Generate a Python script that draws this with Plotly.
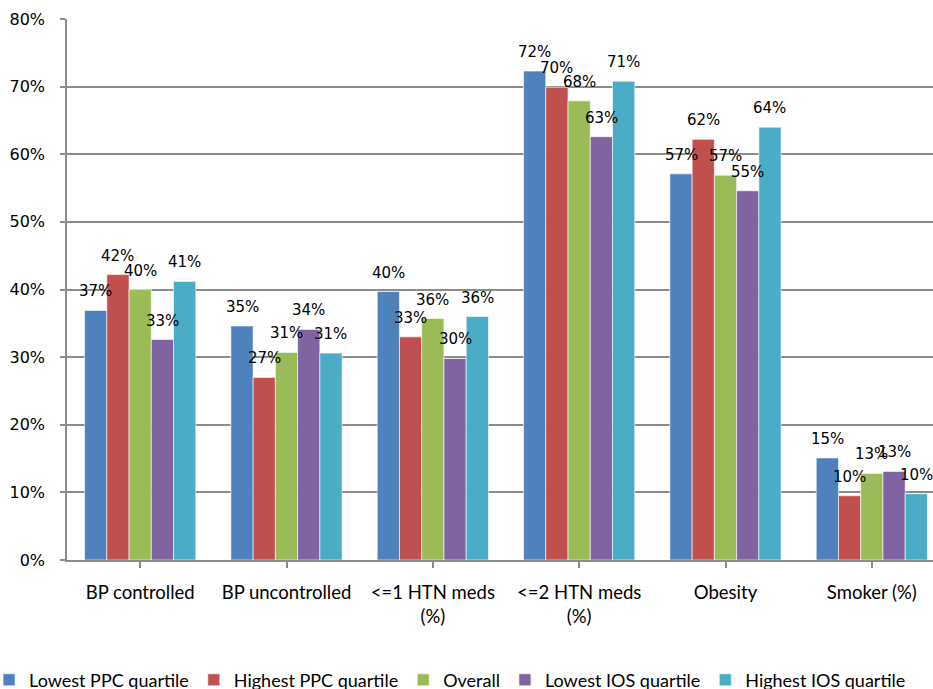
import plotly.graph_objects as go

categories = ["BP controlled", "BP uncontrolled", "<=1 HTN meds (%)", "<=2 HTN meds (%)", "Obesity", "Smoker (%)"]
tick_labels = ["BP controlled", "BP uncontrolled", "&lt;=1 HTN meds<br>(%)", "&lt;=2 HTN meds<br>(%)", "Obesity", "Smoker (%)"]

series_names = ["Lowest PPC quartile", "Highest PPC quartile", "Overall", "Lowest IOS quartile", "Highest IOS quartile"]
lowest_ppc = [0.369, 0.346, 0.397, 0.723, 0.571, 0.151]
highest_ppc = [0.422, 0.270, 0.330, 0.699, 0.622, 0.095]
overall = [0.400, 0.307, 0.357, 0.679, 0.569, 0.128]
lowest_ios = [0.326, 0.341, 0.298, 0.626, 0.546, 0.131]
highest_ios = [0.412, 0.306, 0.360, 0.708, 0.640, 0.098]
series_values = [lowest_ppc, highest_ppc, overall, lowest_ios, highest_ios]
colors = ["#4F81BD", "#C0504D", "#9BBB59", "#8064A2", "#4BACC6"]

bargap = 0.24
n = len(series_names)
xidx = list(range(len(categories)))

fig = go.Figure()
for name, vals, col in zip(series_names, series_values, colors):
    fig.add_trace(go.Bar(
        x=xidx, y=vals, name=name,
        marker=dict(color=col, line=dict(color="rgba(255,255,255,0.6)", width=1)),
    ))

annotations = []
bw = (1 - bargap) / n
for i, vals in enumerate(series_values):
    for j, v in enumerate(vals):
        annotations.append(dict(
            x=j + (i - (n - 1) / 2) * bw, y=v, xref="x", yref="y",
            text=f"{round(v*100):.0f}%", showarrow=False,
            yanchor="bottom", xanchor="center", yshift=8,
            font=dict(family="DejaVu Sans", size=15, color="black"),
        ))

fig.update_layout(
    width=933, height=689,
    margin=dict(l=67, r=0, t=19, b=129, autoexpand=False),
    barmode="group", bargap=bargap, bargroupgap=0,
    plot_bgcolor="white", paper_bgcolor="white",
    annotations=annotations,
    showlegend=True,
    legend=dict(orientation="h", x=-0.09, xanchor="left", y=-0.222, yanchor="middle",
                font=dict(family="Lato", size=18, color="black"), itemclick=False),
    xaxis=dict(
        range=[-0.5, 5.418], tickvals=xidx, ticktext=tick_labels,
        showgrid=False, ticks="outside", ticklen=6, tickcolor="#8C8C8C", tickwidth=1.5,
        showline=True, linecolor="#8C8C8C", linewidth=1.5,
        tickfont=dict(family="Lato", size=18.5, color="black"), ticklabelstandoff=9,
    ),
    yaxis=dict(
        range=[0, 0.8], dtick=0.1, tickformat=".0%",
        showgrid=True, gridcolor="#8C8C8C", gridwidth=1.5,
        ticks="outside", ticklen=5, tickcolor="#8C8C8C", tickwidth=1.5,
        showline=True, linecolor="#8C8C8C", linewidth=1.5, zeroline=False,
        tickfont=dict(family="DejaVu Sans", size=16, color="black"), ticklabelstandoff=12,
    ),
)

fig.write_html("out.html")
